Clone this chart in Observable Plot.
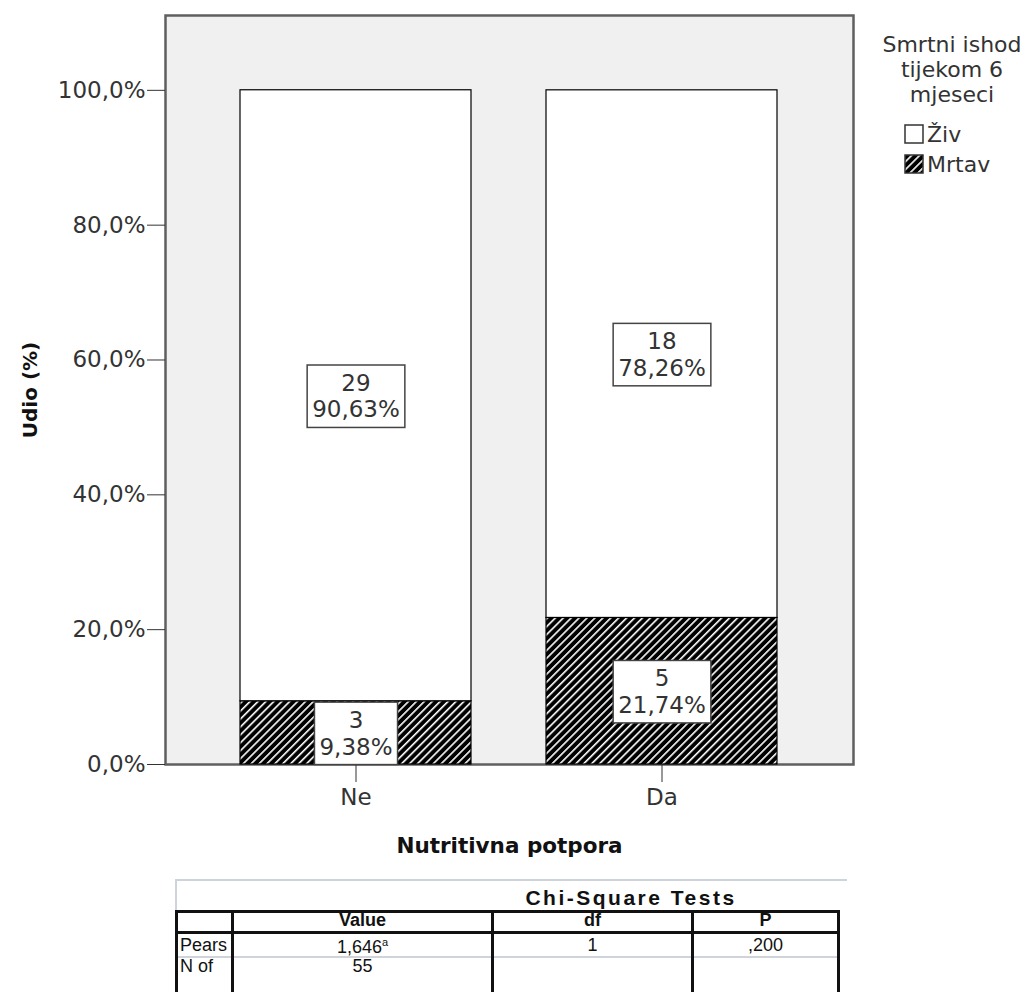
<!DOCTYPE html>
<html>
<head>
<meta charset="utf-8">
<script src="https://cdn.jsdelivr.net/npm/d3@7"></script>
<script src="https://cdn.jsdelivr.net/npm/@observablehq/plot@0.6"></script>
<style>
  body { margin: 0; background: white; }
  #wrap { position: relative; width: 1032px; height: 994px; overflow: hidden; font-family: "DejaVu Sans", sans-serif; }
  #legend { position: absolute; left: 872px; top: 32px; width: 160px; color: #333; font-size: 22px; }
  #legend .title { text-align: center; line-height: 25px; }
  #legend .item { display: flex; align-items: center; height: 30px; margin-left: 32px; }
  #legend svg { margin-right: 3px; }
  #tbl { position: absolute; left: 175px; top: 879px; width: 672px; height: 120px; font-family: "Liberation Sans", Arial, sans-serif; font-size: 18px; color: #111; }
  #tbl .frame { position: absolute; left: 0; top: 0; width: 672px; height: 32px; border-top: 2px solid #cfd3dc; border-left: 2px solid #cfd3dc; box-sizing: border-box; }
  #tbl .ttl { position: absolute; top: 8px; left: 456px; transform: translateX(-50%); font-weight: bold; white-space: nowrap; letter-spacing: 2.5px; font-size: 21px; line-height: 22px; }
  #tbl table { position: absolute; left: 0; top: 31px; border-collapse: collapse; table-layout: fixed; width: 665px; }
  #tbl td { border-left: 3px solid #111; border-right: 3px solid #111; padding: 0 2px; height: 17px; line-height: 17px; text-align: center; white-space: nowrap; }
  #tbl tr.h td { border-top: 3px solid #111; border-bottom: 3px solid #111; font-weight: bold; font-size: 18px; height: 15px; line-height: 15px; padding-bottom: 3px; }
  #tbl tr.r1 td { border-bottom: 2px solid #cfd3dc; }
  #tbl td.first { text-align: left; }
  #tbl td sup { font-size: 11px; }
</style>
</head>
<body>
<div id="wrap">
  <div id="chart"></div>
  <div id="legend"></div>
  <div id="tbl"></div>
</div>
<script>
// ---- data ----
const categories = ["Ne", "Da"];
const outcomes = ["Živ", "Mrtav"];
const countsZiv = [29, 18];
const countsMrtav = [3, 5];
const pctZiv = [90.63, 78.26];
const pctMrtav = [9.38, 21.74];
const yTicks = [0, 20, 40, 60, 80, 100];
const legendTitle = ["Smrtni ishod", "tijekom 6", "mjeseci"];
const xLabel = "Nutritivna potpora";
const yLabel = "Udio (%)";
const tableTitle = "Chi-Square Tests";
const tableHeader = ["", "Value", "df", "P"];
const tableRow1 = ["Pears", "1,646", "1", ",200"];
const tableRow2 = ["N of", "55", "", ""];
const tableColWidths = [56, 260, 200, 146];

const fmtPct = v => v.toFixed(2).replace(".", ",") + "%";

// segments: Mrtav on bottom, Živ on top
const segs = [];
categories.forEach((c, i) => {
  segs.push({cat: c, status: "Mrtav", y1: 0, y2: pctMrtav[i], n: countsMrtav[i], pct: pctMrtav[i]});
  segs.push({cat: c, status: "Živ", y1: pctMrtav[i], y2: pctMrtav[i] + pctZiv[i], n: countsZiv[i], pct: pctZiv[i]});
});

const chart = Plot.plot({
  width: 1032,
  height: 870,
  marginLeft: 165,
  marginRight: 179,
  marginTop: 15,
  marginBottom: 106,
  style: {fontFamily: "DejaVu Sans, sans-serif", fontSize: "23px", color: "#333", background: "white"},
  x: {domain: categories, padding: 0.245, label: null},
  y: {domain: [0, 111.1], label: null},
  color: {domain: outcomes, range: ["white", "url(#hatch)"]},
  marks: [
    Plot.frame({fill: "#f0f0f0", stroke: "#5f5f5f", strokeWidth: 2.5}),
    Plot.barY(segs, {x: "cat", y1: "y1", y2: "y2", fill: "status", stroke: "black", strokeWidth: 1.2}),
    Plot.axisY({ticks: yTicks, tickSize: 18, tickPadding: 2, tickFormat: d => d.toFixed(1).replace(".", ",") + "%", label: null, stroke: "#333"}),
    Plot.axisX({tickSize: 18, tickPadding: 6, label: null}),
    Plot.text([yLabel], {frameAnchor: "left", dx: -135, rotate: -90, textAnchor: "middle", lineAnchor: "middle", fontWeight: "bold", fontSize: 20, fill: "#111", fontFamily: "DejaVu Sans, sans-serif"}),
    Plot.text([xLabel], {frameAnchor: "bottom", dy: 88, textAnchor: "middle", fontWeight: "bold", fontSize: 21.5, fill: "#111", fontFamily: "DejaVu Sans, sans-serif"}),
    Plot.text(segs, {x: "cat", y: d => (d.y1 + d.y2) / 2, text: d => d.n + "\n" + fmtPct(d.pct), lineHeight: 1.15, fill: "#333", fontSize: 23})
  ]
});

// hatch pattern
const defs = document.createElementNS("http://www.w3.org/2000/svg", "defs");
defs.innerHTML = '<pattern id="hatch" patternUnits="userSpaceOnUse" width="5.6" height="5.6" patternTransform="rotate(45)"><rect width="5.6" height="5.6" fill="black"/><rect x="0" width="1.6" height="5.6" fill="white"/></pattern>';
chart.insertBefore(defs, chart.firstChild);
document.getElementById("chart").appendChild(chart);

// label boxes around the multi-line segment labels
chart.querySelectorAll("text").forEach(t => {
  if (!t.querySelector("tspan") || !t.textContent.includes("%")) return;
  const bb = t.getBBox();
  const r = document.createElementNS("http://www.w3.org/2000/svg", "rect");
  const px = 5, py = 5;
  r.setAttribute("x", bb.x - px);
  r.setAttribute("y", bb.y - py);
  r.setAttribute("width", bb.width + 2 * px);
  r.setAttribute("height", bb.height + 2 * py);
  r.setAttribute("fill", "white");
  r.setAttribute("stroke", "#444");
  r.setAttribute("stroke-width", "1.5");
  if (t.getAttribute("transform")) r.setAttribute("transform", t.getAttribute("transform"));
  t.parentNode.insertBefore(r, t);
});

// legend
const lg = document.getElementById("legend");
lg.innerHTML = legendTitle.map(s => `<div class="title">${s}</div>`).join("") + '<div style="height:12px"></div>' +
  outcomes.map((o, i) => `<div class="item"><svg width="20" height="20"><defs><pattern id="lh${i}" patternUnits="userSpaceOnUse" width="5.6" height="5.6" patternTransform="rotate(45)"><rect width="5.6" height="5.6" fill="black"/><rect width="1.6" height="5.6" fill="white"/></pattern></defs><rect x="1" y="1" width="18" height="18" fill="${o === "Živ" ? "white" : `url(#lh${i})`}" stroke="#333" stroke-width="1.5"/></svg><span>${o}</span></div>`).join("");

// table
const tb = document.getElementById("tbl");
const cell = (v, j, i) => `<td class="${j === 0 ? "first" : ""}">${v}${(i === 1 && j === 1) ? "<sup>a</sup>" : ""}</td>`;
tb.innerHTML = `<div class="frame"></div><div class="ttl">${tableTitle}</div><table>` +
  `<colgroup>${tableColWidths.map(w => `<col style="width:${w}px">`).join("")}</colgroup>` +
  `<tr class="h">${tableHeader.map((v, j) => cell(v, j, 0)).join("")}</tr>` +
  `<tr class="r1">${tableRow1.map((v, j) => cell(v, j, 1)).join("")}</tr>` +
  `<tr class="r2">${tableRow2.map((v, j) => cell(v, j, 2)).join("")}</tr>` +
  `<tr class="r3">${["", "", "", ""].map((v, j) => cell(v, j, 3)).join("")}</tr></table>`;
</script>
</body>
</html>
